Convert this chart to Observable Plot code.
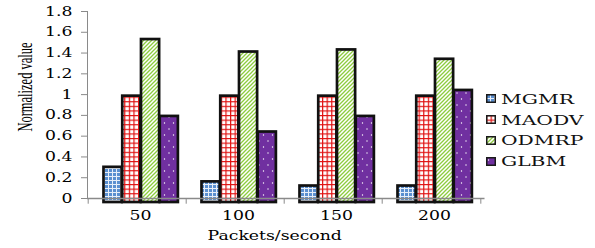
<!DOCTYPE html>
<html><head><meta charset="utf-8">
<script src="https://cdn.jsdelivr.net/npm/d3@7"></script>
<script src="https://cdn.jsdelivr.net/npm/@observablehq/plot@0.6"></script>
<style>
html,body{margin:0;padding:0;background:#fff}
#wrap{position:relative;width:595px;height:248px;overflow:hidden}
#chart svg text{fill:#000}
.legend{position:absolute;left:486px;top:88.5px;font-family:"DejaVu Serif";font-size:13.5px;color:#111}
.row{height:20.8px;display:flex;align-items:center;white-space:nowrap}
.row svg{flex:none}
.lab{display:inline-block;transform:scaleX(1.5);transform-origin:left center;margin-left:5px}
.ytitle{position:absolute;left:25.5px;top:86.5px;font-family:"Liberation Serif";font-size:12.5px;color:#000;white-space:nowrap;line-height:1;
  transform:translate(-50%,-50%) rotate(-90deg) scaleY(1.7)}
</style>
</head><body>
<svg width="0" height="0" style="position:absolute">
  <defs>
    <pattern id="pMGMR" width="4" height="4" patternUnits="userSpaceOnUse">
      <rect width="4" height="4" fill="#5a8fd0"/>
      <path d="M0,0.5H4M0.5,0V4" stroke="#e6eef9" stroke-width="1"/>
    </pattern>
    <pattern id="pMAODV" width="4.6" height="4.6" patternUnits="userSpaceOnUse">
      <rect width="4.6" height="4.6" fill="#fff"/>
      <path d="M0,0.6H4.6M0.6,0V4.6" stroke="#e01010" stroke-width="1.2"/>
    </pattern>
    <pattern id="pODMRP" width="4" height="4" patternUnits="userSpaceOnUse">
      <rect width="4" height="4" fill="#fff"/>
      <path d="M-1,1L1,-1M0,4L4,0M3,5L5,3" stroke="#8dcc3e" stroke-width="1.3"/>
    </pattern>
    <pattern id="pGLBM" width="9" height="12" patternUnits="userSpaceOnUse">
      <rect width="9" height="12" fill="#7030a0"/>
      <circle cx="2.5" cy="3" r="0.7" fill="#fff"/>
      <circle cx="7" cy="9" r="0.7" fill="#fff"/>
    </pattern>
  </defs>
</svg>
<div id="wrap"><div id="chart"></div><div class="ytitle" id="ytitle"></div><div class="legend" id="legend"></div></div>
<script>
// ---- data ----
const categories = ["50", "100", "150", "200"];
const series = ["MGMR", "MAODV", "ODMRP", "GLBM"];
const MGMR  = [0.30, 0.16, 0.12, 0.12];
const MAODV = [0.985, 0.985, 0.985, 0.985];
const ODMRP = [1.53, 1.41, 1.43, 1.34];
const GLBM  = [0.79, 0.64, 0.79, 1.04];
const yTicks = [0, 0.2, 0.4, 0.6, 0.8, 1, 1.2, 1.4, 1.6, 1.8];
const yTickLabels = ["0", "0.2", "0.4", "0.6", "0.8", "1", "1.2", "1.4", "1.6", "1.8"];
const xTitle = "Packets/second";
const yTitle = "Normalized value";

// ---- build ----
const valuesBySeries = {MGMR, MAODV, ODMRP, GLBM};
const fills = {MGMR: "url(#pMGMR)", MAODV: "url(#pMAODV)", ODMRP: "url(#pODMRP)", GLBM: "url(#pGLBM)"};
const rows = series.flatMap(s => categories.map((c, i) => ({series: s, category: c, value: valuesBySeries[s][i]})));
const tickLabel = new Map(yTicks.map((t, i) => [t, yTickLabels[i]]));

const W = 595, H = 248, mL = 87, mR = 113.5, mT = 11, mB = 50;
const bw = (W - mL - mR) / categories.length;
const groupInset = 15.5, barW = 18.75;
const gray = "#8a8a8a";

const barMarks = series.map((s, j) => Plot.barY(rows.filter(d => d.series === s), {
  x: "category", y: "value", fill: fills[s], stroke: "#111", strokeWidth: 2.7,
  insetLeft: groupInset + j * barW, insetRight: bw - groupInset - (j + 1) * barW, insetBottom: -4
}));

const chart = Plot.plot({
  width: W, height: H, marginLeft: mL, marginRight: mR, marginTop: mT, marginBottom: mB,
  style: {fontFamily: "DejaVu Serif", fontSize: "12.5px", color: gray, background: "#fff"},
  x: {domain: categories, padding: 0, axis: null, label: null},
  y: {domain: [0, 1.8], ticks: yTicks, tickFormat: d => tickLabel.get(d), tickSize: 6, tickPadding: 9, line: true, label: null},
  marks: [
    ...barMarks,
    Plot.ruleY([0], {stroke: gray, strokeWidth: 1.5, insetRight: -3}),
    Plot.ruleX(categories, {x: d => d, y1: 0, y2: -0.055, dx: -bw / 2, stroke: gray}),
    Plot.ruleX(categories.slice(-1), {x: d => d, y1: 0, y2: -0.055, dx: bw / 2, stroke: gray}),
    Plot.text(categories, {x: d => d, frameAnchor: "bottom", dy: 21.5, dx: 3, fill: "#000", fontSize: 12.5}),
    Plot.text([xTitle], {frameAnchor: "bottom", dx: -10, dy: 41, fill: "#000", fontSize: 12.5})
  ]
});
document.getElementById("chart").appendChild(chart);
document.getElementById("ytitle").textContent = yTitle;

// stretch texts horizontally to match the wide lettering of the original
chart.querySelectorAll("text").forEach(t => {
  const len = t.getComputedTextLength();
  if (len > 0) {
    t.setAttribute("textLength", (len * 1.38).toFixed(1));
    t.setAttribute("lengthAdjust", "spacingAndGlyphs");
  }
});

// legend
const legend = d3.select("#legend");
series.forEach(s => {
  const row = legend.append("div").attr("class", "row");
  const sv = row.append("svg").attr("width", 10).attr("height", 9);
  sv.append("rect").attr("x", 0.75).attr("y", 0.75).attr("width", 8.5).attr("height", 7.5)
    .attr("fill", fills[s]).attr("stroke", "#1a1a1a").attr("stroke-width", 1.5);
  row.append("span").attr("class", "lab").text(s);
});
</script>
</body></html>
